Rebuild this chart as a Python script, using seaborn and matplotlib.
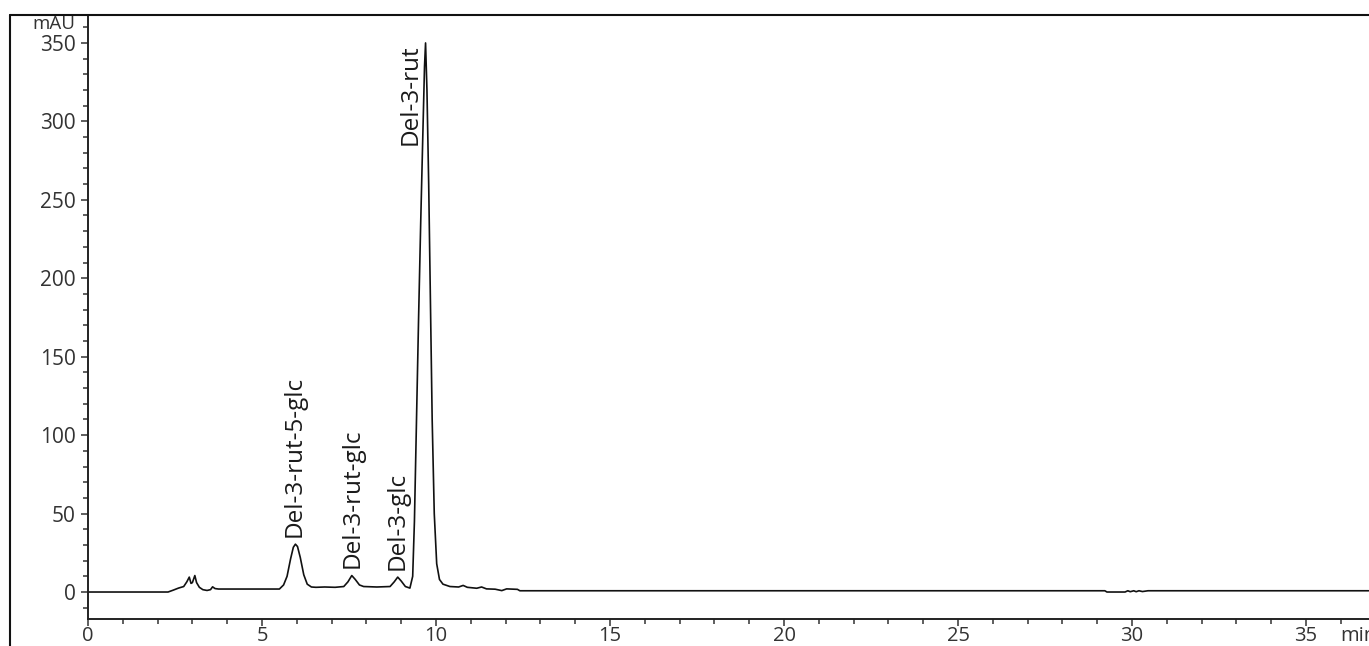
import numpy as np
import pandas as pd
import matplotlib.pyplot as plt
import matplotlib.transforms as mtransforms
from matplotlib.lines import Line2D
import seaborn as sns

# chromatogram trace (time in min, absorbance in mAU)
time_min = [
    0.00, 2.30, 2.45, 2.60, 2.75, 2.84, 2.91, 2.96, 3.00, 3.07, 3.12, 3.20,
    3.30, 3.42, 3.52, 3.58, 3.65, 3.75, 5.50, 5.62, 5.72, 5.82, 5.90, 5.96,
    6.02, 6.10, 6.20, 6.30, 6.42, 6.55, 6.80, 7.10, 7.35, 7.47, 7.58, 7.68,
    7.80, 7.92, 8.30, 8.68, 8.80, 8.90, 9.00, 9.12, 9.25, 9.33, 9.38, 9.44,
    9.50, 9.56, 9.62, 9.67, 9.70, 9.74, 9.79, 9.84, 9.89, 9.95, 10.02, 10.10,
    10.20, 10.40, 10.65, 10.78, 10.90, 11.17, 11.31, 11.45, 11.70, 11.89,
    12.03, 12.34, 12.41, 29.22, 29.28, 29.80, 29.88, 29.95, 30.05, 30.12,
    30.20, 30.30, 30.46, 36.80,
]
absorbance = [
    0.0, 0.0, 1.2, 2.5, 3.5, 6.5, 9.5, 5.5, 6.0, 10.5, 6.0, 3.0,
    1.5, 1.0, 1.5, 3.3, 2.2, 1.9, 1.9, 4.5, 10.0, 21.0, 28.5, 30.5,
    29.0, 22.0, 11.0, 5.0, 3.2, 3.0, 3.2, 3.0, 3.5, 6.5, 10.5, 8.0,
    4.5, 3.5, 3.2, 3.5, 6.5, 9.5, 7.0, 3.5, 2.5, 10.0, 45.0, 110.0,
    175.0, 235.0, 290.0, 335.0, 350.0, 320.0, 260.0, 185.0, 110.0, 50.0, 18.0, 8.0,
    5.0, 3.5, 3.2, 4.2, 3.0, 2.4, 3.2, 2.0, 1.8, 0.9,
    2.0, 1.7, 0.8, 0.8, 0.0, 0.0, 0.8, 0.2, 0.8, 0.2,
    0.8, 0.3, 0.8, 0.8,
]

# peak labels
peak_names = ["Del-3-rut-5-glc", "Del-3-rut-glc", "Del-3-glc", "Del-3-rut"]
label_x = [5.95, 7.59, 8.90, 9.28]
label_y = [35, 15, 14, 285]

df = pd.DataFrame({"time": time_min, "mAU": absorbance})

sns.set_style("ticks")
plt.rcParams["font.family"] = ["Open Sans", "DejaVu Sans"]

W, H = 1369, 646
fig = plt.figure(figsize=(W / 100, H / 100), dpi=100)
ax = fig.add_axes([88 / W, 27 / H, (W - 88) / W, (619 - 15) / H])

sns.lineplot(data=df, x="time", y="mAU", ax=ax, color="#111111",
             linewidth=1.2, estimator=None, sort=False)

ax.set_xlim(0, (W - 88) / 34.8)
ax.set_ylim(-17.2, 367.8)
ax.set_xlabel("")
ax.set_ylabel("")

ax.set_xticks(np.arange(0, 36, 5))
ax.set_xticks(np.arange(0, 37, 1), minor=True)
ax.set_yticks(np.arange(0, 351, 50))
ax.set_yticks(np.arange(-10, 361, 10), minor=True)

sns.despine(ax=ax)
for s in ("left", "bottom"):
    ax.spines[s].set_linewidth(1.4)
    ax.spines[s].set_color("#222222")
ax.tick_params(which="major", length=5, width=1.1, color="#333333",
               labelsize=15, labelcolor="#333333")
ax.tick_params(axis="y", which="major", pad=4)
ax.tick_params(axis="x", which="major", pad=0, labelsize=14.5)
ax.tick_params(which="minor", length=3.5, width=1.1, color="#333333")

for name, x, y in zip(peak_names, label_x, label_y):
    ax.text(x, y, name, rotation=90, ha="center", va="bottom",
            fontsize=17.5, color="#1a1a1a")

trans = mtransforms.blended_transform_factory(ax.transAxes, ax.transData)
ax.text(-0.010, 362, "mAU", transform=trans, ha="right", va="center",
        fontsize=13.5, color="#333333")
fig.text(1340 / W, 1 - 636 / H, "min", ha="left", va="center",
         fontsize=14.5, color="#333333")

# outer frame of the export (left and top edges)
fig.add_artist(Line2D([10 / W, 10 / W], [0, 1 - 15 / H], color="#111111",
                      linewidth=1.5, transform=fig.transFigure))
fig.add_artist(Line2D([10 / W, 1], [1 - 15 / H, 1 - 15 / H], color="#111111",
                      linewidth=1.5, transform=fig.transFigure))

fig.savefig("out.png", dpi=100)
